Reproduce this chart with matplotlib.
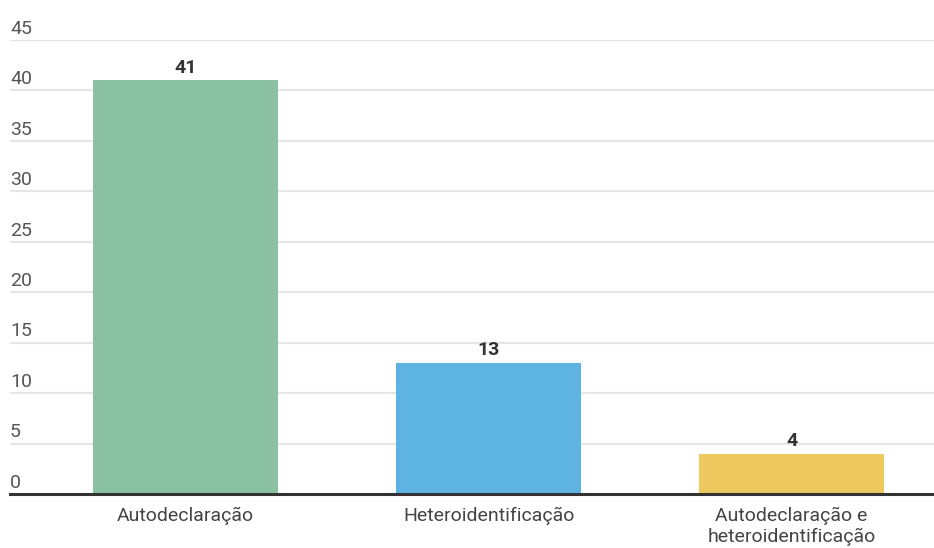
import matplotlib

matplotlib.use("Agg")
import matplotlib.pyplot as plt

categories = ["Autodeclaração", "Heteroidentificação", "Autodeclaração e\nheteroidentificação"]
values = [41, 13, 4]
colors = ["#8bc1a3", "#5db4e3", "#eec95f"]
yticks = [0, 5, 10, 15, 20, 25, 30, 35, 40, 45]

plt.rcParams["font.family"] = ["Roboto", "DejaVu Sans"]

fig = plt.figure(figsize=(9.34, 5.48), dpi=100, facecolor="white")
ax = fig.add_axes([10 / 934, 54 / 548, 924 / 934, 454 / 548])

x = range(len(categories))
bars = ax.bar(x, values, width=0.61, color=colors, zorder=2)
ax.set_xlim(-0.58, 2.47)
ax.set_ylim(0, 45)

# light gridlines with labels sitting just above them, left aligned
for t in yticks:
    if t > 0:
        ax.axhline(t, color="#e6e6e6", lw=1.6, zorder=1)
    ax.annotate(str(t), (0, t), xycoords=ax.get_yaxis_transform(),
                xytext=(0, 4.5), textcoords="offset points",
                ha="left", va="baseline", fontsize=14, color="#555555")
ax.axhline(0, color="#333333", lw=2.2, zorder=3, clip_on=False)

for b, v in zip(bars, values):
    ax.annotate(str(v), (b.get_x() + b.get_width() / 2, v),
                xytext=(0, 5.5), textcoords="offset points",
                ha="center", va="baseline", fontsize=14, fontweight="bold",
                color="#333333")

ax.set_yticks([])
ax.set_xticks(list(x), categories)
ax.tick_params(axis="x", length=0, pad=9, labelsize=14, labelcolor="#444444")
for lbl in ax.get_xticklabels():
    lbl.set_linespacing(1.2)
for s in ax.spines.values():
    s.set_visible(False)

fig.savefig("out.png", dpi=100)
